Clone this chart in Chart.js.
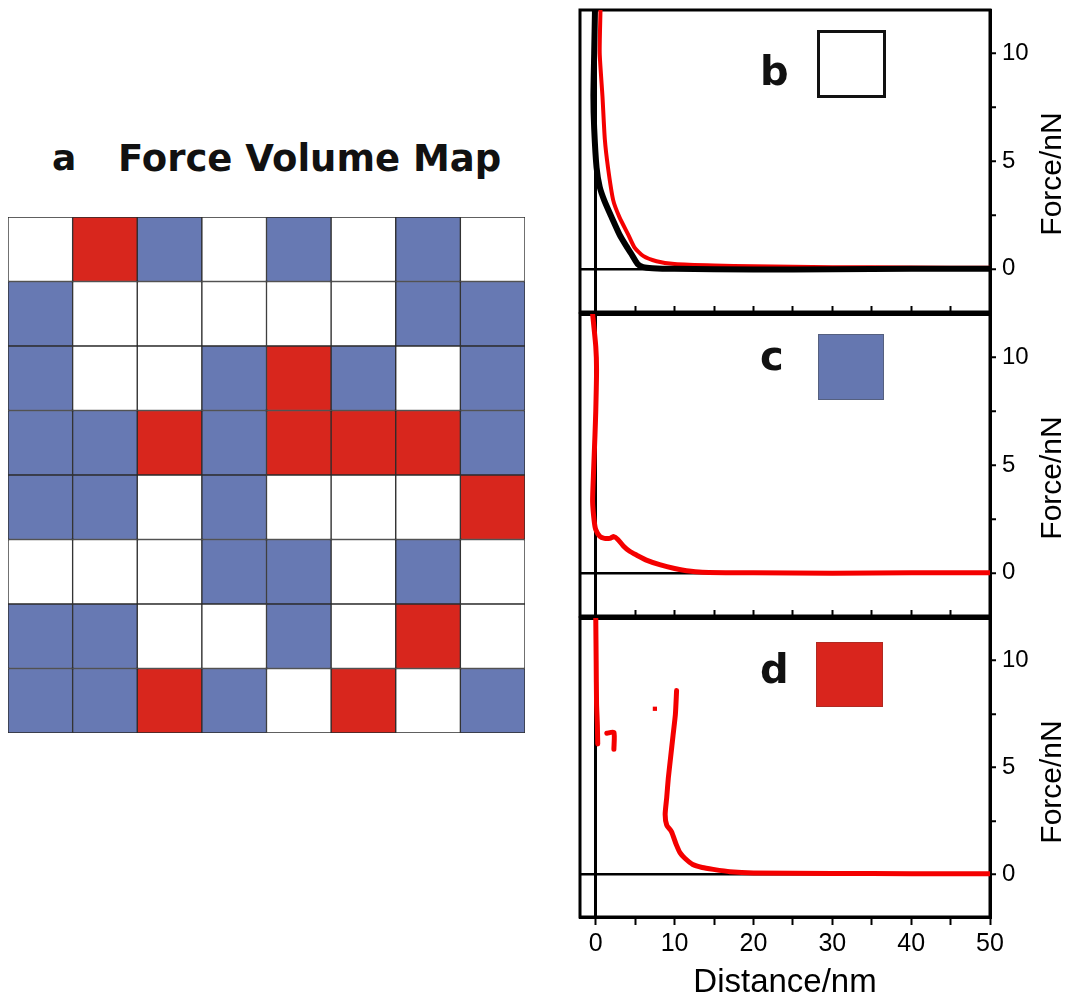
<!DOCTYPE html>
<html lang="en">
<head>
    <meta charset="UTF-8">
    <title>Force Volume Map</title>
    <script src="https://cdn.jsdelivr.net/npm/chart.js"></script>
    <style>
        body { margin: 0; background: #fff; width: 1075px; height: 1005px; position: relative; overflow: hidden; }
        canvas { position: absolute; }
        .lbl { position: absolute; line-height: 1; white-space: nowrap; color: #111; }
        .bold { font-family: "DejaVu Sans", sans-serif; font-weight: bold; }
        .ylab { font-family: "Liberation Sans", Arial, sans-serif; font-size: 30px; width: 140px; text-align: center; transform: rotate(-90deg); color: #000; }
        .box { position: absolute; box-sizing: border-box; }
    </style>
</head>
<body>
    <div class="lbl bold" style="left:52px; top:140px; font-size:36px;">a</div>
    <div class="lbl bold" style="left:118px; top:140px; font-size:37px;">Force Volume Map</div>
    <div style="position:absolute; left:0; top:200px; width:545px; height:550px;"><canvas id="mapChart" width="545" height="550" style="left:0;top:0"></canvas></div>

    <div style="position:absolute; left:560px; top:-12px; width:515px; height:346px;"><canvas id="panelB" width="515" height="346" style="left:0;top:0"></canvas></div>
    <div style="position:absolute; left:560px; top:292px; width:515px; height:346px;"><canvas id="panelC" width="515" height="346" style="left:0;top:0"></canvas></div>
    <div style="position:absolute; left:560px; top:596px; width:515px; height:409px;"><canvas id="panelD" width="515" height="409" style="left:0;top:0"></canvas></div>

    <div class="lbl bold" style="left:760px; top:51px; font-size:40px;">b</div>
    <div class="box" style="left:817px; top:30px; width:69px; height:68px; border:3px solid #111;"></div>
    <div class="lbl bold" style="left:760px; top:336px; font-size:40px;">c</div>
    <div class="box" style="left:818px; top:334px; width:66px; height:66px; background:#6577b0; border:1px solid #55607f;"></div>
    <div class="lbl bold" style="left:760px; top:649px; font-size:40px;">d</div>
    <div class="box" style="left:816px; top:642px; width:67px; height:65px; background:#d9251d; border:1px solid #b02a22;"></div>

    <div class="lbl ylab" style="left:981px; top:159px;">Force/nN</div>
    <div class="lbl ylab" style="left:981px; top:463px;">Force/nN</div>
    <div class="lbl ylab" style="left:981px; top:767px;">Force/nN</div>

    <script>
        // force volume map, rows from top to bottom (W = white, B = blue, R = red)
        const mapRows = [
            ['W', 'R', 'B', 'W', 'B', 'W', 'B', 'W'],
            ['B', 'W', 'W', 'W', 'W', 'W', 'B', 'B'],
            ['B', 'W', 'W', 'B', 'R', 'B', 'W', 'B'],
            ['B', 'B', 'R', 'B', 'R', 'R', 'R', 'B'],
            ['B', 'B', 'W', 'B', 'W', 'W', 'W', 'R'],
            ['W', 'W', 'W', 'B', 'B', 'W', 'B', 'W'],
            ['B', 'B', 'W', 'W', 'B', 'W', 'R', 'W'],
            ['B', 'B', 'R', 'B', 'W', 'R', 'W', 'B']
        ];
        const mapCols = ['1', '2', '3', '4', '5', '6', '7', '8'];
        const cellColors = { W: '#ffffff', B: '#6779b3', R: '#d8261d' };

        // axis ticks of the force curves
        const xTickValues = [0, 5, 10, 15, 20, 25, 30, 35, 40, 45, 50];
        const yTickValues = [0, 2.5, 5, 7.5, 10];

        // panel b: white pixel
        const bBlackX = [-0.1, -0.2, -0.3, -0.2, 0.1, 0.5, 1.1, 2.0, 3.0, 3.8, 4.5, 5.3, 6.0, 7.2, 10, 20, 30, 40, 50];
        const bBlackY = [12, 10, 8, 6.5, 4.7, 3.8, 3.15, 2.4, 1.6, 1.1, 0.7, 0.23, 0.08, 0.03, 0, -0.03, -0.02, 0, 0];
        const bRedX = [0.6, 0.5, 0.85, 1.15, 1.55, 2.2, 3.0, 4.1, 4.9, 6.0, 7.7, 10, 15, 20, 30, 40, 50];
        const bRedY = [12, 10, 8, 6, 4.7, 3.2, 2.4, 1.6, 1.0, 0.6, 0.35, 0.22, 0.15, 0.12, 0.08, 0.06, 0.05];

        // panel c: blue pixel
        const cRedX = [-0.4, 0, 0.1, 0, -0.1, -0.3, -0.4, -0.2, 0, 0.5, 1.1, 1.8, 2.3, 2.8, 3.5, 4.3, 5.2, 6.5, 8.1, 10, 11.5, 13.5, 20, 30, 40, 50];
        const cRedY = [12, 10.5, 9.4, 7.5, 6.4, 4.5, 3.3, 2.4, 2.0, 1.7, 1.6, 1.6, 1.68, 1.55, 1.25, 1.0, 0.82, 0.58, 0.38, 0.2, 0.1, 0.03, 0, -0.02, 0, 0];

        // panel d: red pixel
        const dTopX = [0, 0.05, 0.1, 0.2, 0.25];
        const dTopY = [12, 10, 8, 7, 6.1];
        const dStepX = [1.4, 2.3, 2.3];
        const dStepY = [6.6, 6.65, 5.85];
        const dDotX = [7.5];
        const dDotY = [7.75];
        const dRedX = [10.25, 10.1, 9.8, 9.5, 9.2, 9.0, 8.8, 9.0, 9.6, 10.2, 10.7, 11.3, 12.3, 13.5, 14.9, 17, 20, 30, 40, 50];
        const dRedY = [8.6, 7.5, 6.5, 5.5, 4.5, 3.6, 2.8, 2.3, 2.0, 1.4, 1.0, 0.75, 0.46, 0.32, 0.23, 0.12, 0.06, 0.04, 0.03, 0.02];

        Chart.defaults.font.family = '"Liberation Sans", Arial, sans-serif';
        Chart.defaults.color = '#000';

        const curveRed = '#f40000';
        const pts = (xs, ys) => xs.map((x, i) => ({ x: x, y: ys[i] }));
        const line = (xs, ys, color, width) => ({
            data: pts(xs, ys), showLine: true, borderColor: color, borderWidth: width,
            pointRadius: 0, fill: false, tension: 0.2, borderCapStyle: 'round', borderJoinStyle: 'round'
        });
        const zeroColor = ctx => (ctx.tick && ctx.tick.value === 0) ? '#000' : 'rgba(0,0,0,0)';
        const setTicks = values => axis => { axis.ticks = values.map(v => ({ value: v })); };

        // left and top edges of each panel
        const frame = {
            id: 'frame',
            beforeDatasetsDraw(chart) {
                const a = chart.chartArea, ctx = chart.ctx;
                ctx.save();
                ctx.strokeStyle = '#000';
                ctx.lineWidth = 3;
                ctx.strokeRect(a.left, a.top, a.right - a.left, a.bottom - a.top);
                ctx.restore();
            }
        };

        // heat map drawn as stacked bars, one dataset per row
        new Chart(document.getElementById('mapChart'), {
            type: 'bar',
            data: {
                labels: mapCols,
                datasets: mapRows.slice().reverse().map(row => ({
                    data: row.map(() => 1),
                    backgroundColor: row.map(c => cellColors[c]),
                    borderColor: '#2b2b2b',
                    borderWidth: 1,
                    borderSkipped: false,
                    barPercentage: 1,
                    categoryPercentage: 1
                }))
            },
            options: {
                responsive: false,
                animation: false,
                layout: { padding: { left: 8, right: 20, top: 17, bottom: 17 } },
                plugins: { legend: { display: false }, tooltip: { enabled: false } },
                scales: {
                    x: { stacked: true, display: false },
                    y: { stacked: true, display: false, min: 0, max: 8 }
                }
            }
        });

        function makePanel(id, datasets, topTicks, withLabels) {
            const scales = {
                x: {
                    type: 'linear', min: -2, max: 50,
                    afterBuildTicks: setTicks(xTickValues),
                    ticks: {
                        display: withLabels, autoSkip: false, maxRotation: 0, padding: 4,
                        font: { size: 25 }, color: '#000',
                        callback: v => v % 10 === 0 ? v : ''
                    },
                    grid: { color: zeroColor, lineWidth: 3, drawTicks: withLabels, tickLength: 8, tickColor: '#000', tickWidth: 2 },
                    border: { color: '#000', width: 3 },
                    title: { display: withLabels, text: 'Distance/nm', font: { size: 33 }, color: '#000', padding: { top: 0, bottom: 2 } },
                    afterFit: s => { s.height = withLabels ? 88 : 22; }
                },
                x2: {
                    type: 'linear', position: 'top', min: -2, max: 50,
                    afterBuildTicks: setTicks(xTickValues),
                    ticks: { display: false },
                    grid: { display: topTicks, drawOnChartArea: false, tickLength: 8, tickColor: '#000', tickWidth: 2, color: '#000' },
                    border: { display: topTicks, color: '#000', width: 3 },
                    afterFit: s => { s.height = 22; }
                },
                y: {
                    position: 'right', min: -2, max: 12,
                    afterBuildTicks: setTicks(yTickValues),
                    ticks: { font: { size: 24 }, color: '#000', padding: 6, callback: v => v % 5 === 0 ? v : '' },
                    grid: { color: zeroColor, lineWidth: 2.5, tickLength: 6, tickColor: '#000', tickWidth: 2 },
                    border: { color: '#000', width: 3 },
                    afterFit: s => { s.width = 85; }
                }
            };
            new Chart(document.getElementById(id), {
                type: 'scatter',
                data: { datasets: datasets },
                options: {
                    responsive: false,
                    animation: false,
                    layout: { padding: { left: 20, top: 0, right: 0, bottom: 0 } },
                    plugins: { legend: { display: false }, tooltip: { enabled: false } },
                    scales: scales
                },
                plugins: [frame]
            });
        }

        makePanel('panelB', [
            line(bBlackX, bBlackY, '#000', 6),
            line(bRedX, bRedY, curveRed, 4)
        ], false, false);

        makePanel('panelC', [
            line(cRedX, cRedY, curveRed, 5)
        ], true, false);

        makePanel('panelD', [
            line(dTopX, dTopY, curveRed, 5),
            line(dStepX, dStepY, curveRed, 5),
            { data: pts(dDotX, dDotY), pointStyle: 'rect', pointRadius: 3, backgroundColor: curveRed, borderWidth: 0 },
            line(dRedX, dRedY, curveRed, 5)
        ], true, true);
    </script>
</body>
</html>
